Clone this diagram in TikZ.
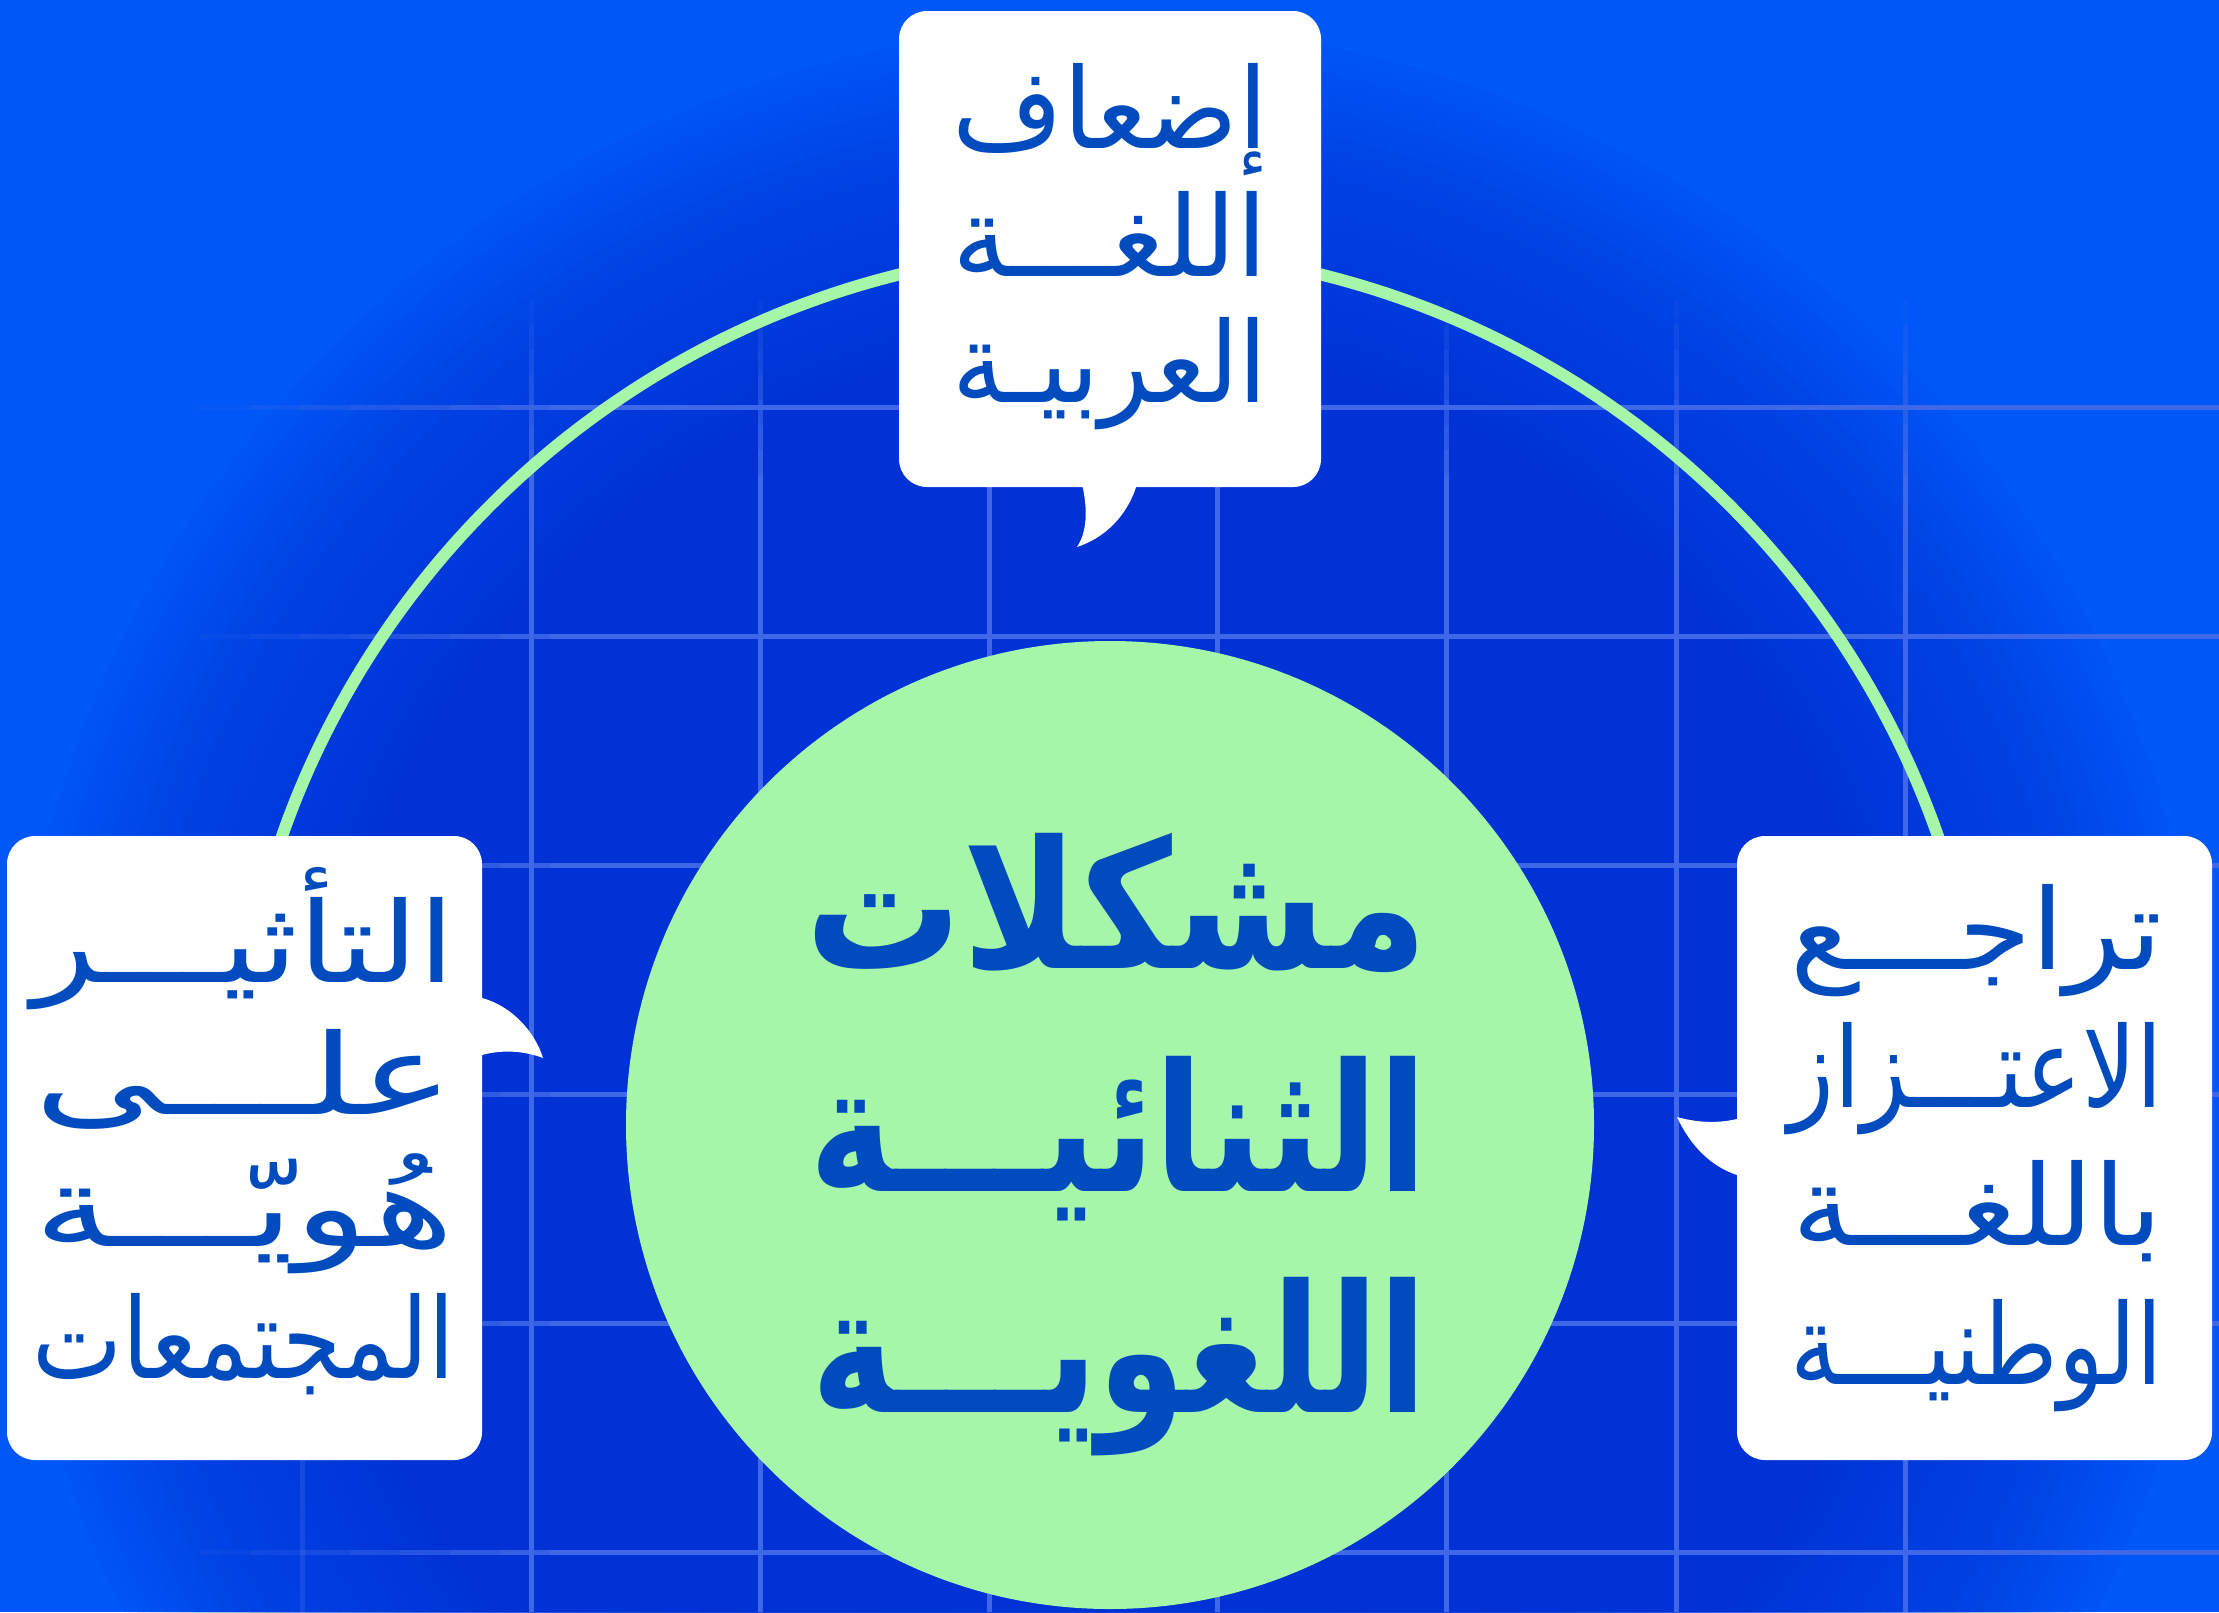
\documentclass[tikz,border=0pt]{standalone}
\usepackage{fontspec}
\newfontfamily\arabicfont[Script=Arabic]{DejaVu Sans}
\TeXXeTstate=1
\definecolor{bgdark}{HTML}{0032D6}
\definecolor{bglight}{HTML}{0057F7}
\definecolor{gridc}{HTML}{3F68E8}
\definecolor{mint}{HTML}{A6F6A9}
\definecolor{ink}{HTML}{004CBE}
\newsavebox\linebox
\newlength\linelen
% set one line of Arabic text, stretched horizontally to the given width
\newcommand{\fitline}[2]{%
  \sbox\linebox{\arabicfont\beginR #2\endR}%
  \setlength\linelen{\wd\linebox}%
  \pgfmathsetmacro\fitsx{#1/\linelen}%
  \scalebox{\fitsx}[1]{\usebox\linebox}}
\begin{document}
\begin{tikzpicture}[x=1pt,y=-1pt,
  bubble/.style={rectangle, rounded corners=28pt, fill=white, inner sep=0pt},
  tail/.style={fill=white},
  txt/.style={inner sep=0pt, text=ink, anchor=base east, font=\fontsize{112}{120}\selectfont},
  bigtxt/.style={inner sep=0pt, text=ink, anchor=base east, font=\fontsize{178}{190}\selectfont\bfseries},
  gridline/.style={fill=gridc}]
\useasboundingbox (0,0) rectangle (2219,1612);
% background: bright blue, darkening towards the centre circle
\fill[bglight] (0,0) rectangle (2219,1612);
\begin{scope}
  \clip (0,0) rectangle (2219,1612);
  \foreach \k in {0,...,47}
    \fill[bgdark, opacity=0.06] (1110,1125) circle ({1100pt-12.5pt*\k});
\end{scope}
% grid (vertical lines fade out towards the top, horizontal ones towards the left)
\foreach \gx in {531,760,989,1217,1446,1676,1905}{
  \foreach \k in {1,...,8}
    \fill[gridline, opacity=\k/8] (\gx-2.5,300+25*\k-25) rectangle (\gx+2.5,300+25*\k);
  \fill[gridline] (\gx-2.5,500) rectangle (\gx+2.5,1612);
}
\fill[gridline, opacity=0.35] (299.5,1100) rectangle (304.5,1612);
\foreach \gy in {407,636,865,1094,1323,1552}{
  \foreach \k in {1,...,8}
    \fill[gridline, opacity=\k/8] (200+50*\k-50,\gy-2.5) rectangle (200+50*\k,\gy+2.5);
  \fill[gridline] (600,\gy-2.5) rectangle (2219,\gy+2.5);
}
% ring (only its upper part shows)
\begin{scope}
  \clip (0,0) rectangle (2219,1000);
  \draw[mint, line width=12pt] (1110,1126) circle (877pt);
\end{scope}
% core circle
\node[circle, fill=mint, minimum size=968pt, inner sep=0pt] (core) at (1110,1125) {};
% bubbles
\node[bubble, minimum width=422pt, minimum height=476pt] (topb) at (1110,249) {};
\node[bubble, minimum width=475pt, minimum height=624pt] (leftb) at (244.5,1148) {};
\node[bubble, minimum width=475pt, minimum height=624pt] (rightb) at (1974.5,1148) {};
% tails
\fill[tail] (1082,484) .. controls (1088,510) and (1087,532) .. (1077,547) .. controls (1105,538) and (1128,515) .. (1137,484) -- cycle;
\fill[tail] (478,998) -- (482,998) .. controls (512,1006) and (535,1032) .. (543,1058) .. controls (522,1050) and (500,1050) .. (482,1055) -- (478,1055) -- cycle;
\fill[tail] (1741,1119) -- (1737,1119) .. controls (1715,1124) and (1695,1122) .. (1677,1117) .. controls (1690,1145) and (1710,1166) .. (1737,1175) -- (1741,1175) -- cycle;
% top bubble text
\node[txt] (t1) at (1268,148) {\fitline{315pt}{إضعاف}};
\node[txt] (t2) at (1268,276) {\fitline{315pt}{اللغـــة}};
\node[txt] (t3) at (1268,402) {\fitline{315pt}{العربيـة}};
% left bubble text
\node[txt] (l1) at (455,982) {\fitline{422pt}{التأثيـــر}};
\node[txt] (l2) at (455,1114) {\fitline{420pt}{علـــى}};
\node[txt] (l3) at (455,1246) {\fitline{420pt}{هُويّـــة}};
\node[txt] (l4) at (455,1378) {\fitline{422pt}{المجتمعات}};
% right bubble text
\node[txt] (r1) at (2163,969) {\fitline{372pt}{تراجـــع}};
\node[txt] (r2) at (2163,1107) {\fitline{374pt}{الاعتـــزاز}};
\node[txt] (r3) at (2163,1245) {\fitline{370pt}{باللغـــة}};
\node[txt] (r4) at (2163,1384) {\fitline{372pt}{الوطنيـــة}};
% centre text
\node[bigtxt] (c1) at (1428,968) {\fitline{622pt}{مشكلات}};
\node[bigtxt] (c2) at (1428,1191) {\fitline{618pt}{الثنائيـــة}};
\node[bigtxt] (c3) at (1428,1412) {\fitline{616pt}{اللغويـــة}};
\end{tikzpicture}
\end{document}
